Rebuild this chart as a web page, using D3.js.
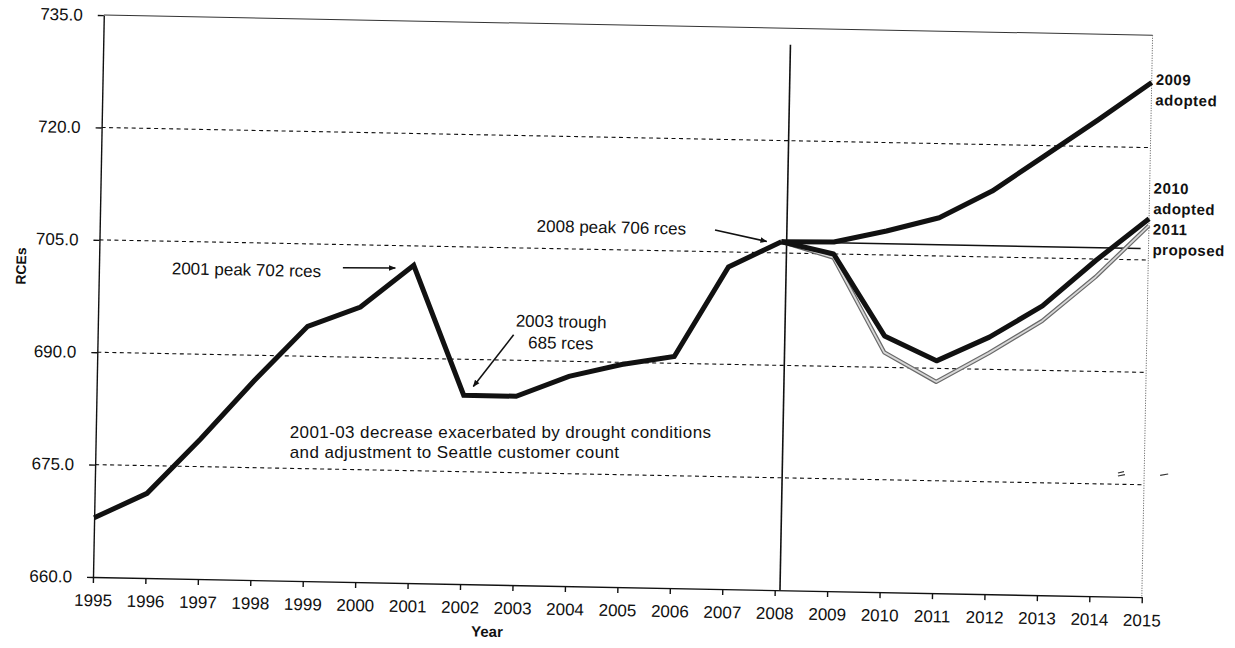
<!DOCTYPE html>
<html>
<head>
<meta charset="utf-8">
<script src="https://cdn.jsdelivr.net/npm/d3@7"></script>
<style>
  html, body { margin: 0; padding: 0; background: #fff; }
  svg { display: block; }
  text { font-family: Arial, "Liberation Sans", sans-serif; fill: #111; }
</style>
</head>
<body>
<svg id="chart" width="1235" height="648"></svg>
<script>
// Historical RCEs, 1995-2008
const histYears = [1995, 1996, 1997, 1998, 1999, 2000, 2001, 2002, 2003, 2004, 2005, 2006, 2007, 2008];
const histRCEs  = [667.9, 671.3, 678.7, 686.6, 694.0, 696.7, 702.4, 685.2, 685.2, 688.0, 689.7, 690.9, 703.0, 706.5];

// Forecasts, 2008-2015
const fcstYears    = [2008, 2009, 2010, 2011, 2012, 2013, 2014, 2015];
const adopted2009  = [706.5, 706.6, 708.2, 710.1, 713.8, 718.7, 723.6, 728.7];
const adopted2010  = [706.5, 705.0, 694.2, 691.0, 694.3, 698.6, 704.8, 710.5];
const proposed2011 = [706.5, 704.5, 692.0, 688.2, 692.2, 696.6, 702.6, 709.6];

// 2008 peak carried forward as a flat reference
const peakLevel = 706.5;

// Axis ticks
const xTicks = [1995, 1996, 1997, 1998, 1999, 2000, 2001, 2002, 2003, 2004, 2005,
                2006, 2007, 2008, 2009, 2010, 2011, 2012, 2013, 2014, 2015];
const yTicks = [660, 675, 690, 705, 720, 735];
const gridValues = [675, 690, 705, 720];

const W = 1049, H = 562;
const originX = 93, originY = 577;
const tilt = 1.1;

const svg = d3.select("#chart");

// arrowhead
svg.append("defs").append("marker")
  .attr("id", "arrow")
  .attr("viewBox", "0 0 10 10")
  .attr("refX", 9).attr("refY", 5)
  .attr("markerWidth", 7).attr("markerHeight", 7)
  .attr("markerUnits", "userSpaceOnUse")
  .attr("orient", "auto")
  .append("path").attr("d", "M0,1 L10,5 L0,9 Z").attr("fill", "#111");

// the whole sheet sits slightly skewed on the page
const g = svg.append("g")
  .attr("transform", `rotate(${tilt},${originX},${originY}) translate(${originX},${originY - H})`);

const x = d3.scaleLinear().domain([1995, 2015]).range([0, W]);
const y = d3.scaleLinear().domain([660, 735]).range([H, 0]);

// dashed gridlines
g.append("g").selectAll("line").data(gridValues).join("line")
  .attr("x1", 0).attr("x2", W)
  .attr("y1", d => y(d)).attr("y2", d => y(d))
  .attr("stroke", "#111").attr("stroke-width", 1.1)
  .attr("stroke-dasharray", "4,3.5");

// top border and dotted right border
g.append("line").attr("x1", 0).attr("x2", W).attr("y1", 0).attr("y2", 0)
  .attr("stroke", "#333").attr("stroke-width", 1);
g.append("line").attr("x1", W).attr("x2", W).attr("y1", 0).attr("y2", H)
  .attr("stroke", "#555").attr("stroke-width", 1).attr("stroke-dasharray", "1,1.5");

// axes
const yAxis = g.append("g")
  .call(d3.axisLeft(y).tickValues(yTicks).tickFormat(d3.format(".1f"))
        .tickSize(6).tickSizeOuter(0).tickPadding(15));
const xAxis = g.append("g").attr("transform", `translate(0,${H})`)
  .call(d3.axisBottom(x).tickValues(xTicks).tickFormat(d3.format("d"))
        .tickSize(6).tickSizeOuter(0).tickPadding(11));
[yAxis, xAxis].forEach(a => {
  a.selectAll("path, line").attr("stroke", "#111").attr("stroke-width", 1.4);
  a.selectAll("text").attr("font-family", "Arial, 'Liberation Sans', sans-serif")
    .attr("font-size", 17).attr("fill", "#111");
});

// axis titles
g.append("text").attr("x", 395).attr("y", H + 47).attr("dy", "0.35em")
  .attr("text-anchor", "middle").attr("font-size", 15).attr("font-weight", "bold")
  .text("Year");
g.append("text")
  .attr("transform", `translate(-78,${y(701.3)}) rotate(-90)`)
  .attr("dy", "0.35em").attr("text-anchor", "middle")
  .attr("font-size", 14).attr("font-weight", "bold").text("RCEs");

// flat line at the 2008 peak
g.append("line")
  .attr("x1", x(2008)).attr("x2", x(2014.85))
  .attr("y1", y(peakLevel)).attr("y2", y(peakLevel))
  .attr("stroke", "#111").attr("stroke-width", 1.5);

// divider between actuals and forecasts
g.append("line")
  .attr("x1", x(2008.1)).attr("x2", x(2008.1))
  .attr("y1", y(732.8)).attr("y2", y(660))
  .attr("stroke", "#111").attr("stroke-width", 1.6);

const line = d3.line().x(d => x(d[0])).y(d => y(d[1]));
const zipF = vals => fcstYears.map((yr, i) => [yr, vals[i]]);

// 2011 proposed: hollow grey stroke
g.append("path").datum(zipF(proposed2011))
  .attr("d", line).attr("fill", "none")
  .attr("stroke", "#6a6a6a").attr("stroke-width", 4.2).attr("stroke-linejoin", "round");
g.append("path").datum(zipF(proposed2011))
  .attr("d", line).attr("fill", "none")
  .attr("stroke", "#d8d8d8").attr("stroke-width", 1.8).attr("stroke-linejoin", "round");

// 2010 and 2009 adopted
[adopted2010, adopted2009].forEach(vals => {
  g.append("path").datum(zipF(vals))
    .attr("d", line).attr("fill", "none")
    .attr("stroke", "#111").attr("stroke-width", 5).attr("stroke-linejoin", "round");
});

// actuals
g.append("path").datum(histYears.map((yr, i) => [yr, histRCEs[i]]))
  .attr("d", line).attr("fill", "none")
  .attr("stroke", "#111").attr("stroke-width", 5).attr("stroke-linejoin", "miter")
  .attr("stroke-miterlimit", 3);

// annotations (multi-line notes are single text blocks with tspans)
const note = (parent, yr, val, lines, opts = {}) => {
  const t = parent.append("text")
    .attr("x", x(yr)).attr("y", y(val))
    .attr("text-anchor", opts.anchor || "start")
    .attr("font-size", opts.size || 17)
    .attr("font-weight", opts.weight || "normal")
    .attr("letter-spacing", opts.spacing || 0);
  lines.forEach((s, i) => {
    t.append("tspan").attr("x", x(yr))
      .attr("dy", i === 0 ? "0.35em" : `${opts.lh || 20}px`).text(s);
  });
  return t;
};
const arrow = (y1, v1, y2, v2) => g.append("line")
  .attr("x1", x(y1)).attr("y1", y(v1)).attr("x2", x(y2)).attr("y2", y(v2))
  .attr("stroke", "#111").attr("stroke-width", 1.6).attr("marker-end", "url(#arrow)");

note(g, 1996.39, 701.4, ["2001 peak 702  rces"]);
arrow(1999.65, 701.9, 2000.65, 702.0);

note(g, 2003.33, 708.0, ["2008 peak 706 rces"]);
arrow(2006.73, 707.9, 2007.72, 706.5);

note(g, 2003.83, 695.3, ["2003 trough", "685 rces"], { anchor: "middle", lh: 21.5 });
arrow(2002.93, 693.4, 2002.18, 686.4);

// the long two-line note is kept level so its lines stay clear of each other
const noteX = x(1998.70) + 210, noteY = y(680.35) + 10;
const drought = g.append("g").attr("transform", `rotate(${-tilt},${noteX},${noteY})`);
note(drought, 1998.70, 680.35,
     ["2001-03 decrease exacerbated by drought conditions",
      "and adjustment to Seattle customer count"],
     { spacing: 0.4, lh: 20 });

// series labels at right
const labelOpts = { size: 15, weight: "bold", spacing: 0.5, lh: 20.5 };
note(g, 2015 + 4 / (W / 20), 729.1, ["2009", "adopted"], labelOpts);
note(g, 2015 + 4 / (W / 20), 714.6, ["2010", "adopted", "2011", "proposed"], labelOpts);

// small legend stubs near the lower right
g.append("path")
  .attr("d", `M${x(2014.5)},${y(676.5)} l6,-1.5 M${x(2014.5)},${y(676.1)} l7,-1.5 M${W + 16},${y(676.3)} l8,-1.5`)
  .attr("stroke", "#333").attr("stroke-width", 1.2).attr("fill", "none");
</script>
</body>
</html>
